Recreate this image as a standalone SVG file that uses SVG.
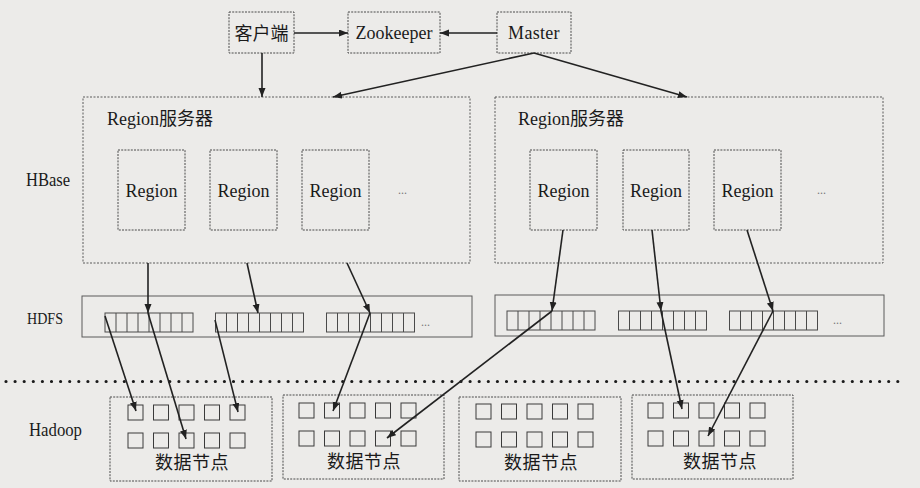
<svg xmlns="http://www.w3.org/2000/svg" width="920" height="488" viewBox="0 0 920 488">
<defs>
<style>
.bx{fill:none;stroke:#4a4a4a;stroke-width:1;stroke-dasharray:2 1.2}
.srv{fill:none;stroke:#5a5a5a;stroke-width:1;stroke-dasharray:2 1.5}
.hd{fill:none;stroke:#5a5a5a;stroke-width:1}
.sq{fill:none;stroke:#3a3a3a;stroke-width:1}
.cell{fill:none;stroke:#4a4a4a;stroke-width:1}
.lat{font-family:"Liberation Serif","DejaVu Serif",serif;font-size:18px;fill:#1a1a1a}
.cjk{font-family:"Noto Sans CJK SC","Liberation Serif",sans-serif;font-size:18px;fill:#1a1a1a}
.lbl{font-family:"Liberation Serif","DejaVu Serif",serif;font-size:18px;fill:#1a1a1a}
.dots{font-family:"Liberation Serif",serif;font-size:12px;fill:#777}
.ar{fill:none;stroke:#222;stroke-width:1.6;marker-end:url(#ah)}
</style>
<marker id="ah" markerUnits="userSpaceOnUse" markerWidth="10" markerHeight="8" refX="9" refY="3.5" orient="auto">
<path d="M0,0 L9,3.5 L0,7 z" fill="#222"/>
</marker>
<g id="strip">
<rect class="cell" x="0" y="0" width="88" height="19"/>
<path class="cell" d="M11,0V19M22,0V19M33,0V19M44,0V19M55,0V19M66,0V19M77,0V19"/>
</g>
<g id="sqs">
<rect class="sq" x="0" y="0" width="15" height="15"/>
<rect class="sq" x="25.5" y="0" width="15" height="15"/>
<rect class="sq" x="51" y="0" width="15" height="15"/>
<rect class="sq" x="76.5" y="0" width="15" height="15"/>
<rect class="sq" x="102" y="0" width="15" height="15"/>
<rect class="sq" x="0" y="28" width="15" height="15"/>
<rect class="sq" x="25.5" y="28" width="15" height="15"/>
<rect class="sq" x="51" y="28" width="15" height="15"/>
<rect class="sq" x="76.5" y="28" width="15" height="15"/>
<rect class="sq" x="102" y="28" width="15" height="15"/>
</g>
</defs>
<rect x="0" y="0" width="920" height="488" fill="#ecebe9"/>

<g id="labels">
<text class="lbl" x="26" y="186" textLength="44" lengthAdjust="spacingAndGlyphs">HBase</text>
<text class="lbl" x="27" y="324" textLength="36" lengthAdjust="spacingAndGlyphs" style="font-size:17px">HDFS</text>
<text class="lbl" x="29" y="436" textLength="53" lengthAdjust="spacingAndGlyphs">Hadoop</text>
</g>

<g id="client"><rect class="bx" x="229" y="12" width="65" height="41"/><text class="cjk" x="261.5" y="39.5" text-anchor="middle">客户端</text></g>
<g id="zookeeper"><rect class="bx" x="348" y="12" width="92" height="41"/><text class="lat" x="394" y="39" text-anchor="middle">Zookeeper</text></g>
<g id="master"><rect class="bx" x="497" y="12" width="74" height="41"/><text class="lat" x="534" y="39" text-anchor="middle" letter-spacing="0.3">Master</text></g>

<g id="regionserver1">
<rect class="srv" x="83" y="97" width="387" height="166"/>
<text class="lat" x="107" y="125">Region<tspan class="cjk">服务器</tspan></text>
<g id="r1a"><rect class="bx" x="118" y="150" width="67" height="80"/><text class="lat" x="151.5" y="197" text-anchor="middle">Region</text></g>
<g id="r1b"><rect class="bx" x="210" y="150" width="67" height="80"/><text class="lat" x="243.5" y="197" text-anchor="middle">Region</text></g>
<g id="r1c"><rect class="bx" x="302" y="150" width="67" height="80"/><text class="lat" x="335.5" y="197" text-anchor="middle">Region</text></g>
<text class="dots" x="398" y="194">...</text>
</g>

<g id="regionserver2">
<rect class="srv" x="495" y="97" width="388" height="166"/>
<text class="lat" x="518" y="125">Region<tspan class="cjk">服务器</tspan></text>
<g id="r2a"><rect class="bx" x="530" y="150" width="67" height="80"/><text class="lat" x="563.5" y="197" text-anchor="middle">Region</text></g>
<g id="r2b"><rect class="bx" x="623" y="150" width="66" height="80"/><text class="lat" x="656" y="197" text-anchor="middle">Region</text></g>
<g id="r2c"><rect class="bx" x="714" y="150" width="67" height="80"/><text class="lat" x="747.5" y="197" text-anchor="middle">Region</text></g>
<text class="dots" x="817" y="194">...</text>
</g>

<g id="hdfs1">
<rect class="hd" x="82" y="296" width="390" height="41"/>
<use href="#strip" x="105" y="313"/>
<use href="#strip" x="215.5" y="313"/>
<use href="#strip" x="326.5" y="313"/>
<text class="dots" x="421" y="326">...</text>
</g>
<g id="hdfs2">
<rect class="hd" x="495" y="295" width="389" height="41"/>
<use href="#strip" x="507" y="311"/>
<use href="#strip" x="618.5" y="311"/>
<use href="#strip" x="729.5" y="311"/>
<text class="dots" x="833" y="324">...</text>
</g>

<g id="separator">
<line x1="6" y1="381.5" x2="900" y2="381.5" stroke="#1a1a1a" stroke-width="3.2" stroke-linecap="round" stroke-dasharray="0 9.1"/>
</g>

<g id="datanode1"><rect class="bx" x="110" y="397" width="162" height="84"/><use href="#sqs" x="128" y="405"/><text class="cjk" x="192" y="469" text-anchor="middle" letter-spacing="0.5">数据节点</text></g>
<g id="datanode2"><rect class="bx" x="283" y="395" width="161" height="84"/><use href="#sqs" x="299" y="403"/><text class="cjk" x="364" y="468" text-anchor="middle" letter-spacing="0.5">数据节点</text></g>
<g id="datanode3"><rect class="bx" x="459" y="397" width="162" height="84"/><use href="#sqs" x="476" y="404"/><text class="cjk" x="541" y="469" text-anchor="middle" letter-spacing="0.5">数据节点</text></g>
<g id="datanode4"><rect class="bx" x="632" y="395" width="161" height="84"/><use href="#sqs" x="648" y="403"/><text class="cjk" x="720" y="468" text-anchor="middle" letter-spacing="0.5">数据节点</text></g>

<g id="connectors">
<line class="ar" x1="294" y1="33" x2="348" y2="33"/>
<line class="ar" x1="497" y1="33" x2="440" y2="33"/>
<line class="ar" x1="262" y1="53" x2="262" y2="97"/>
<line class="ar" x1="534" y1="53" x2="333" y2="97"/>
<line class="ar" x1="534" y1="53" x2="687" y2="97"/>
<line class="ar" x1="148" y1="263" x2="148" y2="313"/>
<line class="ar" x1="247" y1="263" x2="258" y2="313"/>
<line class="ar" x1="347" y1="263" x2="370" y2="313"/>
<line class="ar" x1="563" y1="230" x2="552" y2="311"/>
<line class="ar" x1="652" y1="230" x2="661" y2="311"/>
<line class="ar" x1="747" y1="230" x2="773" y2="311"/>
<line class="ar" x1="105" y1="316" x2="136" y2="411"/>
<line class="ar" x1="148" y1="313" x2="186" y2="439"/>
<line class="ar" x1="215" y1="320" x2="238" y2="412"/>
<line class="ar" x1="370" y1="313" x2="333" y2="411"/>
<line class="ar" x1="552" y1="311" x2="387" y2="438"/>
<line class="ar" x1="661" y1="311" x2="682" y2="409"/>
<line class="ar" x1="773" y1="311" x2="708" y2="436"/>
</g>
</svg>
